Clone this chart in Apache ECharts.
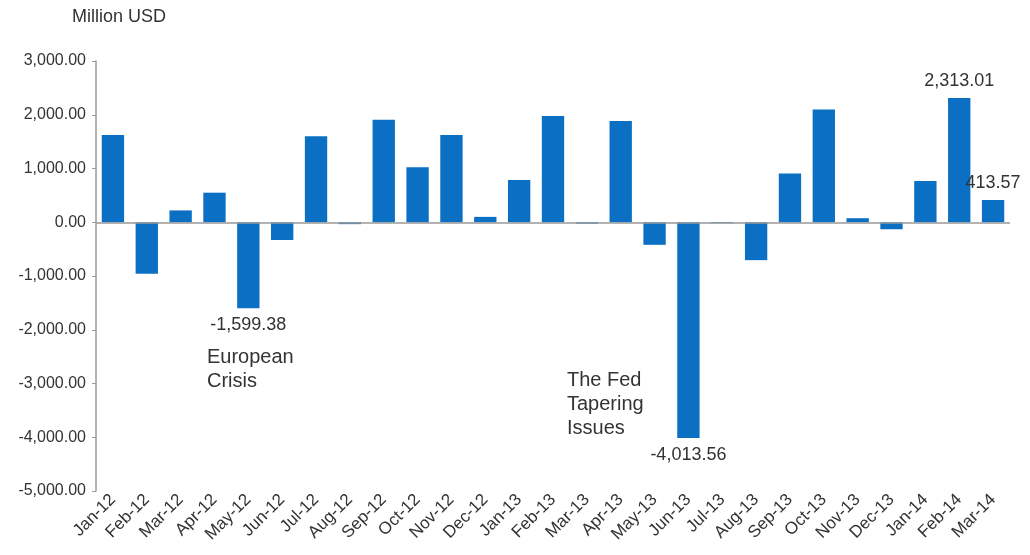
<!DOCTYPE html>
<html>
<head>
<meta charset="utf-8">
<script src="https://cdn.jsdelivr.net/npm/echarts@6/dist/echarts.min.js"></script>
<style>
  html, body { margin: 0; padding: 0; background: #fff; }
  #chart { width: 1030px; height: 555px; }
</style>
</head>
<body>
<div id="chart"></div>
<script>
  var months = ['Jan-12','Feb-12','Mar-12','Apr-12','May-12','Jun-12','Jul-12','Aug-12','Sep-12','Oct-12','Nov-12','Dec-12',
                'Jan-13','Feb-13','Mar-13','Apr-13','May-13','Jun-13','Jul-13','Aug-13','Sep-13','Oct-13','Nov-13','Dec-13',
                'Jan-14','Feb-14','Mar-14'];
  var flows = [1622, -960, 220, 550, -1599.38, -330, 1600, -35, 1905,
               1024, 1622, 100, 786, 1978, -25, 1882, -420, -4013.56,
               -18, -705, 905, 2100, 75, -130, 768, 2313.01, 413.57];
  // months that get a value label
  var labelled = { 'May-12': 'bottom', 'Jun-13': 'bottom', 'Feb-14': 'top', 'Mar-14': 'top' };
  var yTicks = { min: -5000, max: 3000, step: 1000 };

  function fmt(v) {
    return v.toLocaleString('en-US', { minimumFractionDigits: 2, maximumFractionDigits: 2 });
  }

  var barData = [];
  for (var i = 0; i < months.length; i++) {
    var d = { value: flows[i] };
    if (labelled[months[i]]) {
      d.label = { show: true, position: labelled[months[i]], distance: 8 };
    }
    barData.push(d);
  }

  var textFont = 'Liberation Sans, Arial, sans-serif';
  var myChart = echarts.init(document.getElementById('chart'));
  var option = {
    animation: false,
    grid: { left: 96, right: 20, top: 61, bottom: 64, containLabel: false },
    xAxis: {
      type: 'category',
      data: months,
      axisLine: { show: false, onZero: false },
      axisTick: { show: false },
      axisLabel: { rotate: 45, color: '#333', fontSize: 17, fontFamily: textFont, margin: 6, interval: 0 }
    },
    yAxis: {
      type: 'value',
      min: yTicks.min,
      max: yTicks.max,
      interval: yTicks.step,
      splitLine: { show: false },
      axisLine: { show: true, lineStyle: { color: '#999', width: 1.5 } },
      axisTick: { show: true, inside: false, length: 4, lineStyle: { color: '#999' } },
      axisLabel: { color: '#333', fontSize: 16, fontFamily: textFont, margin: 10, formatter: fmt }
    },
    series: [{
      type: 'bar',
      data: barData,
      barWidth: '66%',
      itemStyle: { color: '#0B6FC3' },
      label: {
        show: false,
        color: '#333',
        fontSize: 18,
        fontFamily: textFont,
        formatter: function (p) { return fmt(p.value); }
      },
      markLine: {
        silent: true,
        symbol: 'none',
        label: { show: false },
        lineStyle: { color: '#999', width: 1.5, type: 'solid' },
        data: [{ yAxis: 0 }]
      }
    }],
    graphic: [
      { type: 'text', left: 72, top: 8, style: { text: 'Million USD', fill: '#333', font: '18px ' + textFont } },
      { type: 'text', left: 207, top: 345, style: { text: 'European\nCrisis', fill: '#333', font: '20px ' + textFont, lineHeight: 24 } },
      { type: 'text', left: 567, top: 368, style: { text: 'The Fed\nTapering\nIssues', fill: '#333', font: '20px ' + textFont, lineHeight: 24 } }
    ]
  };
  myChart.setOption(option);
</script>
</body>
</html>
